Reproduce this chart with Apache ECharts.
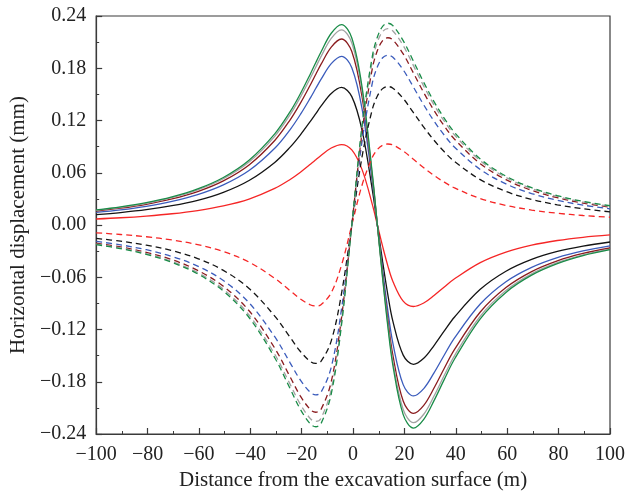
<!DOCTYPE html>
<html>
<head>
<meta charset="utf-8">
<script src="https://cdn.jsdelivr.net/npm/echarts@6/dist/echarts.min.js"></script>
<style>
html,body{margin:0;padding:0;background:#fff;}
#chart{width:628px;height:498px;}
</style>
</head>
<body>
<div id="chart"></div>
<script>
// Distance from the excavation surface (m)
const xValues = [-100, -90.5, -80.5, -70.5, -60.5, -50.5, -40.5, -30.5, -24.5, -20.5, -16.5, -14.5, -12.5, -8.5, -4.5, -0.5, 3.5, 7.5, 9.5, 11.5, 13.5, 15.5, 19.5, 23.5, 27.5, 31.5, 35.5, 39.5, 49.5, 59.5, 69.5, 79.5, 89.5, 100];

// Solid curves (mm)
const solidRed = [0.0069, 0.0083, 0.0103, 0.0129, 0.0166, 0.0219, 0.0298, 0.0420, 0.0523, 0.0606, 0.0700, 0.0749, 0.0798, 0.0884, 0.0924, 0.0862, 0.0636, 0.0234, -0.0006, -0.0246, -0.0466, -0.0648, -0.0874, -0.0936, -0.0896, -0.0810, -0.0712, -0.0618, -0.0432, -0.0311, -0.0231, -0.0178, -0.0141, -0.0114];
const solidBlack = [0.0119, 0.0143, 0.0176, 0.0222, 0.0284, 0.0375, 0.0511, 0.0719, 0.0894, 0.1036, 0.1196, 0.1280, 0.1364, 0.1511, 0.1580, 0.1474, 0.1087, 0.0401, -0.0010, -0.0421, -0.0796, -0.1107, -0.1494, -0.1600, -0.1531, -0.1384, -0.1216, -0.1056, -0.0739, -0.0531, -0.0395, -0.0304, -0.0242, -0.0195];
const solidBlue = [0.0145, 0.0174, 0.0215, 0.0271, 0.0348, 0.0460, 0.0625, 0.0881, 0.1096, 0.1270, 0.1466, 0.1570, 0.1672, 0.1853, 0.1937, 0.1807, 0.1333, 0.0491, -0.0013, -0.0517, -0.0977, -0.1359, -0.1833, -0.1963, -0.1879, -0.1698, -0.1493, -0.1296, -0.0907, -0.0651, -0.0486, -0.0374, -0.0297, -0.0239];
const solidMaroon = [0.0160, 0.0193, 0.0238, 0.0299, 0.0384, 0.0507, 0.0690, 0.0971, 0.1208, 0.1400, 0.1617, 0.1731, 0.1844, 0.2043, 0.2136, 0.1992, 0.1470, 0.0542, -0.0014, -0.0570, -0.1077, -0.1498, -0.2020, -0.2164, -0.2071, -0.1872, -0.1645, -0.1429, -0.0999, -0.0718, -0.0535, -0.0412, -0.0327, -0.0264];
const solidGray = [0.0168, 0.0202, 0.0249, 0.0313, 0.0403, 0.0531, 0.0723, 0.1018, 0.1267, 0.1469, 0.1696, 0.1815, 0.1934, 0.2143, 0.2240, 0.2089, 0.1541, 0.0568, -0.0015, -0.0598, -0.1130, -0.1571, -0.2119, -0.2270, -0.2173, -0.1964, -0.1726, -0.1499, -0.1048, -0.0753, -0.0561, -0.0433, -0.0343, -0.0277];
const solidGreen = [0.0173, 0.0208, 0.0256, 0.0322, 0.0414, 0.0546, 0.0744, 0.1047, 0.1302, 0.1509, 0.1743, 0.1866, 0.1987, 0.2202, 0.2302, 0.2147, 0.1584, 0.0584, -0.0015, -0.0614, -0.1160, -0.1614, -0.2177, -0.2332, -0.2232, -0.2017, -0.1773, -0.1539, -0.1077, -0.0774, -0.0576, -0.0444, -0.0352, -0.0284];

// Dashed curves (mm)
const dashedRed = [-0.0090, -0.0109, -0.0135, -0.0172, -0.0225, -0.0304, -0.0426, -0.0612, -0.0755, -0.0850, -0.0919, -0.0930, -0.0916, -0.0778, -0.0460, 0, 0.0460, 0.0778, 0.0868, 0.0916, 0.0930, 0.0919, 0.0850, 0.0755, 0.0658, 0.0569, 0.0492, 0.0426, 0.0304, 0.0225, 0.0172, 0.0135, 0.0109, 0.0089];
const dashedBlack = [-0.0154, -0.0186, -0.0232, -0.0294, -0.0385, -0.0521, -0.0729, -0.1046, -0.1290, -0.1453, -0.1571, -0.1590, -0.1566, -0.1330, -0.0786, 0, 0.0786, 0.1330, 0.1484, 0.1566, 0.1590, 0.1571, 0.1453, 0.1290, 0.1124, 0.0973, 0.0841, 0.0729, 0.0521, 0.0385, 0.0294, 0.0232, 0.0186, 0.0151];
const dashedBlue = [-0.0189, -0.0228, -0.0284, -0.0361, -0.0472, -0.0638, -0.0893, -0.1283, -0.1583, -0.1782, -0.1926, -0.1950, -0.1921, -0.1632, -0.0964, 0, 0.0964, 0.1632, 0.1820, 0.1921, 0.1950, 0.1926, 0.1782, 0.1583, 0.1379, 0.1193, 0.1031, 0.0893, 0.0638, 0.0472, 0.0361, 0.0284, 0.0228, 0.0186];
const dashedMaroon = [-0.0209, -0.0252, -0.0313, -0.0398, -0.0521, -0.0704, -0.0985, -0.1414, -0.1745, -0.1965, -0.2124, -0.2150, -0.2118, -0.1799, -0.1063, 0, 0.1063, 0.1799, 0.2006, 0.2118, 0.2150, 0.2124, 0.1965, 0.1745, 0.1520, 0.1315, 0.1137, 0.0985, 0.0704, 0.0521, 0.0398, 0.0313, 0.0252, 0.0205];
const dashedGray = [-0.0219, -0.0264, -0.0328, -0.0418, -0.0546, -0.0738, -0.1033, -0.1484, -0.1830, -0.2061, -0.2228, -0.2255, -0.2221, -0.1887, -0.1115, 0, 0.1115, 0.1887, 0.2104, 0.2221, 0.2255, 0.2228, 0.2061, 0.1830, 0.1595, 0.1379, 0.1192, 0.1033, 0.0738, 0.0546, 0.0418, 0.0328, 0.0264, 0.0215];
const dashedGreen = [-0.0225, -0.0271, -0.0337, -0.0429, -0.0561, -0.0759, -0.1062, -0.1524, -0.1880, -0.2118, -0.2289, -0.2317, -0.2282, -0.1939, -0.1145, 0, 0.1145, 0.1939, 0.2162, 0.2282, 0.2317, 0.2289, 0.2118, 0.1880, 0.1638, 0.1417, 0.1225, 0.1062, 0.0759, 0.0561, 0.0429, 0.0337, 0.0271, 0.0221];

// Axis ticks
const xTicks = [-100, -80, -60, -40, -20, 0, 20, 40, 60, 80, 100];
const yTicks = [-0.24, -0.18, -0.12, -0.06, 0.00, 0.06, 0.12, 0.18, 0.24];

const COLORS = {
  red: '#f52626',
  black: '#141414',
  blue: '#3b5cbc',
  maroon: '#8a1b1e',
  gray: '#a2a2a2',
  green: '#1a8c48'
};

const seriesDefs = [
  ['red', solidRed, 'solid'],
  ['black', solidBlack, 'solid'],
  ['blue', solidBlue, 'solid'],
  ['maroon', solidMaroon, 'solid'],
  ['gray', solidGray, 'solid'],
  ['green', solidGreen, 'solid'],
  ['red', dashedRed, 'dashed'],
  ['black', dashedBlack, 'dashed'],
  ['blue', dashedBlue, 'dashed'],
  ['maroon', dashedMaroon, 'dashed'],
  ['gray', dashedGray, 'dashed'],
  ['green', dashedGreen, 'dashed']
];

const FONT = '"Liberation Serif", "DejaVu Serif", serif';
const fmtMinus = s => String(s).replace('-', '\u2212');

const chart = echarts.init(document.getElementById('chart'), null, {renderer: 'canvas'});
chart.setOption({
  animation: false,
  backgroundColor: '#ffffff',
  grid: {
    left: 92, right: 18, top: 16, bottom: 64,
    show: true, borderColor: '#3a3a3a', borderWidth: 1.2, backgroundColor: 'transparent'
  },
  xAxis: {
    type: 'value',
    min: xTicks[0], max: xTicks[xTicks.length - 1], interval: 20,
    name: 'Distance from the excavation surface (m)',
    nameLocation: 'middle', nameGap: 35,
    nameTextStyle: {fontFamily: FONT, fontSize: 21, color: '#222'},
    axisLine: {show: true, onZero: false, lineStyle: {color: '#3a3a3a', width: 1.2}},
    axisTick: {show: true, inside: true, length: 6, lineStyle: {color: '#3a3a3a', width: 1.2}},
    minorTick: {show: true, splitNumber: 2, length: 3, lineStyle: {color: '#3a3a3a', width: 1}},
    splitLine: {show: false},
    axisLabel: {fontFamily: FONT, fontSize: 20, color: '#222', margin: 11, formatter: v => fmtMinus(v)}
  },
  yAxis: {
    type: 'value',
    min: yTicks[0], max: yTicks[yTicks.length - 1], interval: 0.06,
    name: 'Horizontal displacement (mm)',
    nameLocation: 'middle', nameGap: 59,
    nameTextStyle: {fontFamily: FONT, fontSize: 21, color: '#222'},
    axisLine: {show: true, onZero: false, lineStyle: {color: '#3a3a3a', width: 1.2}},
    axisTick: {show: true, inside: true, length: 6, lineStyle: {color: '#3a3a3a', width: 1.2}},
    minorTick: {show: true, splitNumber: 2, length: 3, lineStyle: {color: '#3a3a3a', width: 1}},
    splitLine: {show: false},
    axisLabel: {fontFamily: FONT, fontSize: 20, color: '#222', margin: 10, formatter: v => fmtMinus(Number(v).toFixed(2))}
  },
  series: seriesDefs.map(([c, arr, style]) => ({
    type: 'line',
    data: xValues.map((x, i) => [x, arr[i]]),
    showSymbol: false,
    smooth: 0.35,
    lineStyle: {color: COLORS[c], width: 1.3, type: style === 'dashed' ? [6, 4] : 'solid'},
    itemStyle: {color: COLORS[c]},
    emphasis: {disabled: true}
  }))
});
</script>
</body>
</html>
